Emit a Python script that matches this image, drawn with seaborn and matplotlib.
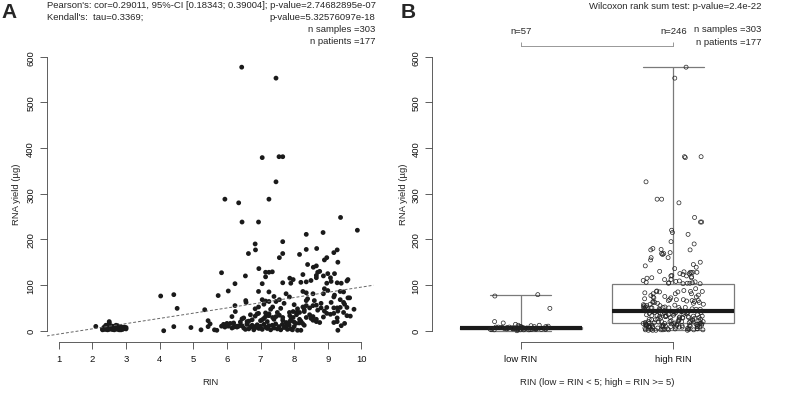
import numpy as np
import pandas as pd
import matplotlib
matplotlib.use("Agg")
import matplotlib.pyplot as plt
import seaborn as sns

# ─────────────────────────────────────────
# DATA
# ─────────────────────────────────────────
rin_low = [4.03, 4.42, 4.12, 4.42, 4.52, 4.93, 2.10, 2.50,
           2.30, 2.35, 2.40, 2.40, 2.45, 2.45, 2.50, 2.50, 2.50, 2.55,
           2.55, 2.60, 2.60, 2.60, 2.65, 2.65, 2.70, 2.70, 2.70, 2.75,
           2.75, 2.80, 2.80, 2.80, 2.85, 2.85, 2.90, 2.90, 2.95, 2.95,
           3.00, 3.00, 2.30, 2.40, 2.50, 2.60, 2.70, 2.80, 2.90, 2.35,
           2.45, 2.55, 2.65, 2.75, 2.85, 2.95, 2.50, 2.60, 2.70]
yield_low = [76, 79, 0, 9, 49, 7, 9.5, 20,
             4, 8, 3, 12, 6, 2, 5, 9, 17, 4,
             7, 3, 6, 10, 5, 2, 4, 8, 6, 3,
             11, 5, 7, 2, 4, 9, 6, 3, 5, 8,
             4, 7, 2, 6, 3, 5, 12, 4, 6, 3,
             7, 5, 4, 6, 2, 5, 14, 3, 8]

rin_high = [
    # above ~100 µg
    6.44, 7.46, 7.05, 7.55, 7.66, 7.46, 5.94, 6.35, 7.25, 6.45,
    6.94, 9.38, 9.88, 6.84, 6.85, 6.64, 7.66, 8.36, 8.86, 7.56,
    7.66, 8.16, 8.36, 8.67, 8.97, 9.18, 9.28, 5.84, 6.95, 6.55,
    7.15, 7.25, 7.35, 7.15, 7.05, 8.66, 8.57, 8.76, 8.66, 8.66,
    8.87, 9.08, 8.26, 7.87, 7.97, 7.66, 9.28, 9.57, 8.97, 8.70,
    9.20, 8.50, 9.40, 9.60, 8.20, 9.10, 9.00, 8.40, 9.30, 8.90,
    # 45 - 100 µg
    6.04, 6.24, 5.74, 6.94, 7.25, 7.76, 8.26, 8.36, 8.36, 8.56,
    8.87, 9.37, 9.47, 7.86, 9.18, 6.56, 6.57, 7.05, 7.15, 7.25,
    7.46, 7.56, 8.36, 9.37, 9.47, 5.34, 6.24, 6.84, 6.94, 7.36,
    8.26, 8.36, 8.46, 8.56, 8.66, 8.97, 9.18, 9.28, 9.37, 9.57,
    9.78, 7.10, 7.70, 8.00, 8.80, 9.10, 9.65, 7.90, 8.90, 8.30,
    7.30, 7.60, 8.10, 8.70, 9.50, 9.20, 8.40, 9.00, 8.80, 7.40,
    8.60, 9.60,
    # 18 - 45 µg
    6.25, 7.15, 7.25, 7.86, 7.97, 8.07, 8.16, 6.15, 6.75, 5.44,
    6.84, 6.94, 7.15, 7.25, 7.36, 7.46, 7.56, 7.66, 7.87, 7.97,
    8.16, 8.36, 8.46, 8.56, 8.66, 8.87, 8.97, 9.08, 9.18, 9.28,
    9.57, 9.67, 9.47, 8.07, 7.66, 7.76, 7.87, 8.56, 8.66, 8.76,
    9.18, 9.28, 6.45, 6.50, 6.60, 6.70, 7.00, 7.20, 7.40, 7.50,
    7.90, 8.30, 8.90, 6.65, 7.05, 8.00, 8.20, 8.50, 6.90, 9.30,
    6.40, 7.10,
    # below 18 µg
    5.23, 5.44, 5.63, 5.84, 5.94, 6.04, 6.15, 6.20, 6.25, 6.30,
    6.35, 6.40, 6.45, 6.50, 6.55, 6.60, 6.65, 6.70, 6.75, 6.80,
    6.85, 6.90, 6.95, 7.00, 7.05, 7.10, 7.15, 7.20, 7.25, 7.30,
    7.35, 7.40, 7.45, 7.50, 7.55, 7.60, 7.65, 7.70, 7.75, 7.80,
    7.85, 7.90, 7.95, 8.00, 8.05, 8.10, 8.15, 8.20, 8.25, 8.30,
    5.70, 5.90, 6.00, 6.20, 6.30, 6.60, 6.80, 9.30, 9.40, 9.50,
    5.50, 6.10,
]
yield_high = [
    577, 553, 379, 381, 381, 326, 288, 280, 288, 238,
    238, 248, 220, 190, 177, 169, 195, 211, 215, 160,
    169, 167, 178, 180, 160, 171, 177, 127, 136, 120,
    128, 128, 129, 118, 103, 142, 139, 130, 121, 116,
    120, 116, 123, 115, 112, 105, 105, 109, 104, 128,
    125, 110, 104, 112, 106, 108, 125, 145, 150, 155,
    87, 103, 77, 86, 85, 81, 86, 107, 83, 81,
    81, 86, 85, 74, 74, 66, 62, 68, 65, 64,
    64, 68, 66, 68, 62, 46, 55, 48, 52, 52,
    52, 55, 50, 55, 56, 51, 50, 50, 51, 51,
    47, 58, 60, 57, 60, 62, 72, 104, 92, 46,
    47, 49, 48, 45, 58, 78, 70, 88, 50, 75,
    66, 72,
    42, 39, 37, 40, 42, 40, 40, 31, 24, 22,
    32, 38, 31, 33, 29, 31, 34, 29, 33, 29,
    25, 29, 35, 31, 25, 30, 38, 36, 38, 28,
    33, 32, 40, 35, 23, 18, 20, 23, 20, 18,
    18, 20, 26, 28, 20, 35, 22, 20, 25, 40,
    24, 42, 43, 21, 24, 19, 21, 27, 37, 43,
    19, 27,
    2, 9, 2, 10, 8, 10, 6, 8, 9, 10,
    10, 12, 11, 6, 3, 14, 4, 8, 12, 2,
    7, 13, 5, 10, 3, 14, 8, 5, 11, 2,
    12, 6, 15, 4, 9, 2, 14, 7, 10, 3,
    12, 4, 2, 9, 16, 1, 17, 1, 16, 12,
    1, 14, 16, 17, 8, 15, 9, 1, 11, 16,
    15, 16,
]

group_order = ["low RIN", "high RIN"]
x_ticks_a = list(range(1, 11))
y_ticks = [0, 100, 200, 300, 400, 500, 600]

header_a = ["Pearson's: cor=0.29011, 95%-CI [0.18343; 0.39004]; p-value=2.74682895e-07",
            "Kendall's:  tau=0.3369;"]
header_a_right = ["p-value=5.32576097e-18", "n samples =303", "n patients =177"]
header_b = ["Wilcoxon rank sum test: p-value=2.4e-22", "n samples =303", "n patients =177"]

df = pd.DataFrame({
    "RIN": rin_low + rin_high,
    "yield": yield_low + yield_high,
})
df["group"] = np.where(df["RIN"] < 5, "low RIN", "high RIN")
n_labels = [f"n={(df['group'] == g).sum()}" for g in group_order]

# ─────────────────────────────────────────
# FIGURE
# ─────────────────────────────────────────
sns.set_style("ticks")
plt.rcParams["font.family"] = ["Liberation Sans", "DejaVu Sans"]
fs = 6.8
axis_col = "#444444"

W, H = 787, 402
fig = plt.figure(figsize=(W / 100, H / 100), dpi=100)


def px_box(left, top, right, bottom):
    return [left / W, 1 - bottom / H, (right - left) / W, (bottom - top) / H]


axA = fig.add_axes(px_box(46.7, 46.7, 373.5, 342.7))
axB = fig.add_axes(px_box(432.2, 46.7, 761.8, 342.7))


def r_style(ax, xb, yb):
    for s in ["top", "right"]:
        ax.spines[s].set_visible(False)
    ax.spines["left"].set_bounds(*yb)
    ax.spines["bottom"].set_bounds(*xb)
    for s in ["left", "bottom"]:
        ax.spines[s].set_color(axis_col)
        ax.spines[s].set_linewidth(0.6)
    ax.tick_params(direction="out", length=4.8, width=0.6, color=axis_col,
                   labelsize=fs, labelcolor="#111111")
    ax.tick_params(axis="x", pad=4)
    ax.tick_params(axis="y", pad=3.5, labelrotation=90)
    for lab in ax.get_yticklabels():
        lab.set_va("center")


# Panel A: scatter + fitted line
axA.set_xlim(0.64, 10.36)
axA.set_ylim(-24, 624)
sns.scatterplot(data=df, x="RIN", y="yield", ax=axA, color="#1a1a1a",
                s=12, edgecolor="none", linewidth=0)
sns.regplot(data=df, x="RIN", y="yield", ax=axA, scatter=False, ci=None,
            truncate=False, line_kws=dict(color="#666666", lw=0.7, ls=(0, (3, 2))))
axA.set_xlim(0.64, 10.36)
axA.set_ylim(-24, 624)
axA.set_xticks(x_ticks_a)
axA.set_yticks(y_ticks)
r_style(axA, (1, 10), (0, 600))
axA.set_xlabel("RIN", fontsize=fs)
axA.set_ylabel("RNA yield (µg)", fontsize=fs)
axA.xaxis.set_label_coords(0.5, (342.7 - 382.7) / 296)
axA.xaxis.label.set_va("center")
axA.yaxis.set_label_coords((17 - 46.7) / 326.8, 0.5)
axA.yaxis.label.set_va("center")

# Panel B: box + jittered points
sns.boxplot(data=df, x="group", y="yield", order=group_order, ax=axB,
            whis=(0, 100), width=0.8, color="white", linecolor="#7a7a7a",
            linewidth=0.9, showfliers=False,
            medianprops=dict(color="#1a1a1a", linewidth=3))
np.random.seed(7)
sns.stripplot(data=df, x="group", y="yield", order=group_order, ax=axB,
              jitter=0.2, size=2.9, color="#222222", linewidth=0.5,
              edgecolor="#222222")
for coll in axB.collections:
    coll.set_facecolor("none")
axB.set_xlim(-0.58, 1.58)
axB.set_ylim(-24, 624)
axB.set_yticks(y_ticks)
r_style(axB, (0, 1), (0, 600))
axB.set_xlabel("RIN (low = RIN < 5; high = RIN >= 5)", fontsize=fs)
axB.set_ylabel("RNA yield (µg)", fontsize=fs)
axB.xaxis.set_label_coords(0.5, (342.7 - 382.7) / 296)
axB.xaxis.label.set_va("center")
axB.yaxis.set_label_coords((403 - 432.2) / 329.6, 0.5)
axB.yaxis.label.set_va("center")

top = axB.secondary_xaxis("top")
top.set_xticks([0, 1])
top.set_xticklabels(n_labels)
top.spines["top"].set_bounds(0, 1)
top.spines["top"].set_color("#888888")
top.spines["top"].set_linewidth(0.6)
top.tick_params(direction="out", length=2.9, width=0.6, color="#888888",
                labelsize=fs, pad=5)

# header texts
def ftxt(x, y, s, **kw):
    fig.text(x / W, 1 - y / H, s, fontsize=kw.pop("fontsize", fs),
             va="center", **kw)


ftxt(1, 12.5, "A", fontsize=15, fontweight="bold")
ftxt(401, 12.5, "B", fontsize=15, fontweight="bold")
ftxt(46.7, 6, header_a[0], ha="left")
ftxt(46.7, 17.5, header_a[1], ha="left")
for y, s in zip([17.5, 29.3, 41.3], header_a_right):
    ftxt(375.5, y, s, ha="right")
for y, s in zip([6.7, 30, 42.5], header_b):
    ftxt(761.5, y, s, ha="right")

fig.savefig("out.png", dpi=100)
